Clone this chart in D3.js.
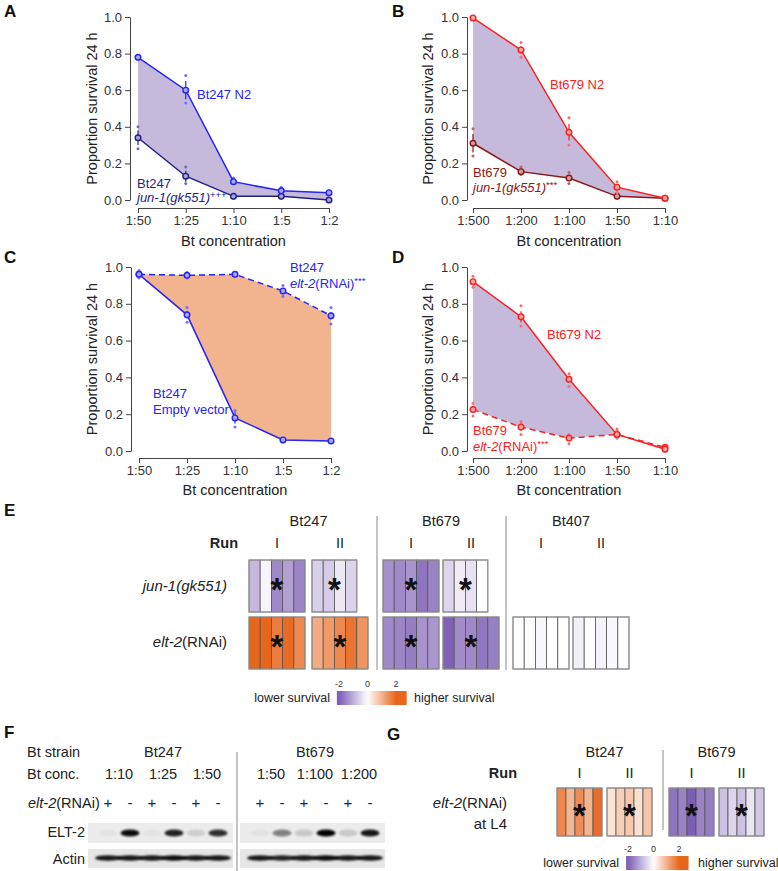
<!DOCTYPE html>
<html><head><meta charset="utf-8">
<script src="https://cdn.jsdelivr.net/npm/d3@7"></script>
<style>body{margin:0;background:#fff;} svg{display:block;font-family:"Liberation Sans",Arial,Helvetica,sans-serif;}</style>
</head><body><svg id="c" width="778" height="871"></svg>
<script>
// ---------------- DATA ----------------
const concBt247 = ["1:50","1:25","1:10","1:5","1:2"];
const concBt679 = ["1:500","1:200","1:100","1:50","1:10"];
const yTicks = [0, 0.2, 0.4, 0.6, 0.8, 1.0];

// Panel A
const aN2Mean = [0.78, 0.60, 0.10, 0.05, 0.04];
const aN2Err  = [0.01, 0.05, 0.01, 0.01, 0.005];
const aN2Reps = [[0.79,0.77,0.78],[0.68,0.53,0.60],[0.12,0.09,0.10],[0.07,0.04,0.05],[0.05,0.03,0.04]];
const aJunMean = [0.34, 0.13, 0.02, 0.02, 0.00];
const aJunErr  = [0.04, 0.03, 0.005, 0.005, 0.0];
const aJunReps = [[0.40,0.28,0.34],[0.18,0.09,0.13],[0.03,0.01,0.02],[0.03,0.01,0.02],[0.0,0.0,0.0]];
// Panel B
const bN2Mean = [0.995, 0.82, 0.37, 0.07, 0.01];
const bN2Err  = [0.003, 0.02, 0.045, 0.015, 0.003];
const bN2Reps = [[1.0,1.0,0.99],[0.86,0.78,0.82],[0.45,0.30,0.37],[0.10,0.04,0.07],[0.01,0.0,0.01]];
const bJunMean = [0.31, 0.155, 0.12, 0.02, 0.01];
const bJunErr  = [0.05, 0.012, 0.015, 0.006, 0.0];
const bJunReps = [[0.39,0.24,0.31],[0.18,0.14,0.16],[0.15,0.09,0.12],[0.04,0.01,0.02],[0.01,0.01,0.01]];
// Panel C
const cEvMean = [0.96, 0.74, 0.18, 0.06, 0.055];
const cEvErr  = [0.01, 0.02, 0.03, 0.006, 0.005];
const cEvReps = [[0.98,0.95,0.96],[0.78,0.70,0.74],[0.22,0.13,0.18],[0.07,0.05,0.06],[0.06,0.05,0.055]];
const cElt2Mean = [0.96, 0.955, 0.96, 0.87, 0.735];
const cElt2Err  = [0.01, 0.01, 0.01, 0.015, 0.02];
const cElt2Reps = [[0.98,0.94,0.96],[0.97,0.94,0.955],[0.97,0.95,0.96],[0.90,0.84,0.87],[0.78,0.69,0.735]];
// Panel D
const dN2Mean = [0.92, 0.73, 0.39, 0.09, 0.01];
const dN2Err  = [0.015, 0.03, 0.015, 0.01, 0.003];
const dN2Reps = [[0.95,0.89,0.92],[0.79,0.68,0.73],[0.42,0.35,0.39],[0.11,0.07,0.09],[0.02,0.0,0.01]];
const dElt2Mean = [0.225, 0.13, 0.07, 0.09, 0.02];
const dElt2Err  = [0.02, 0.02, 0.01, 0.01, 0.005];
const dElt2Reps = [[0.26,0.19,0.225],[0.16,0.09,0.13],[0.09,0.04,0.07],[0.12,0.07,0.09],[0.03,0.01,0.02]];

// Panel E (z-scores per replicate plate)
const eStrains = ["Bt247","Bt679","Bt407"];
const eRuns = ["I","II"];
const eJun1 = {
  Bt247: [[-0.89,-0.12,-1.47,-1.18,-1.51], [-0.60,-0.63,-0.29,-0.53]],
  Bt679: [[-1.37,-1.47,-1.33,-1.71,-1.54], [-0.52,-0.23,-0.37,0.0]]
};
const eElt2 = {
  Bt247: [[2.0,2.0,1.71,1.95,1.54], [1.10,1.32,1.54,1.82,1.39]],
  Bt679: [[-1.45,-1.51,-1.60,-1.33,-1.31], [-1.95,-1.44,-1.47,-1.69,-1.59]],
  Bt407: [[0.0,-0.02,-0.10,0.0,0.0], [-0.18,0.0,-0.15,-0.10,0.0]]
};
const eJun1Sig = {Bt247:[true,true], Bt679:[true,true]};
const eElt2Sig = {Bt247:[true,true], Bt679:[true,true], Bt407:[false,false]};
const legendTicks = [-2, 0, 2];

// Panel F (western blot)
const fStrains = ["Bt247","Bt679"];
const fConc = [["1:10","1:25","1:50"],["1:50","1:100","1:200"]];
const fRnai = ["+","-","+","-","+","-"];
const fElt2Band = [[0.03,0.95,0.03,0.85,0.12,0.8],[0.04,0.45,0.15,1.0,0.15,0.9]];
const fActinBand = [[0.9,0.9,0.9,0.95,0.9,0.9],[0.9,0.85,0.9,0.95,0.9,0.9]];

// Panel G
const gStrains = ["Bt247","Bt679"];
const gElt2L4 = {
  Bt247: [[1.57,0.94,1.49,0.98,1.91],[0.37,0.61,0.72,0.41,0.76]],
  Bt679: [[-1.73,-1.54,-2.0,-1.54,-1.62],[-0.76,-0.52,-0.76,-0.32,-0.69]]
};

// ---------------- DRAW ----------------
const svg = d3.select("#c");
const FONT = "'Liberation Sans', Arial, Helvetica, sans-serif";
const TXT = "#222";

function letter(t, x, y){
  svg.append("text").attr("x",x).attr("y",y).attr("font-size",17).attr("font-weight","bold").attr("fill","#111").text(t);
}
function multiText(x, y, parts, opts){
  const t = svg.append("text").attr("x",x).attr("y",y).attr("font-size",opts.size||12.5).attr("fill",opts.fill||TXT)
    .attr("text-anchor",opts.anchor||"start");
  parts.forEach(p=>{
    const s = t.append("tspan").text(p.t);
    if(p.i) s.attr("font-style","italic");
    if(p.b) s.attr("font-weight","bold");
    if(p.sup) s.attr("font-size",9.5).attr("dy",-4);
  });
  return t;
}

function mix(c, t){ return d3.interpolateRgb(c, "#ffffff")(t); }

function linePanel(o){
  const g = svg.append("g");
  const x = d3.scalePoint().domain(o.cats).range([o.x0, o.x1]);
  const y = d3.scaleLinear().domain([0,1]).range([o.yb, o.yt]);
  const idx = d3.range(o.cats.length);
  g.append("path").datum(idx)
    .attr("d", d3.area().x(i=>x(o.cats[i])).y0(i=>y(o.lower.mean[i])).y1(i=>y(o.upper.mean[i])))
    .attr("fill", o.fill);
  const ya = g.append("g").attr("transform",`translate(${o.ax},0)`)
    .call(d3.axisLeft(y).tickValues(yTicks).tickFormat(d3.format(".1f")).tickSize(5).tickSizeOuter(0).tickPadding(3));
  const xa = g.append("g").attr("transform",`translate(0,${o.xay})`)
    .call(d3.axisBottom(x).tickSize(5).tickSizeOuter(0).tickPadding(3));
  [ya, xa].forEach(a=>{
    a.attr("font-family",FONT).attr("font-size",13);
    a.selectAll("text").attr("fill","#333");
    a.selectAll("path,line").attr("stroke","#444");
  });
  g.append("text").attr("x",(o.x0+o.x1)/2).attr("y",o.xtY).attr("text-anchor","middle").attr("font-size",14.5).attr("fill",TXT).text("Bt concentration");
  g.append("text").attr("transform",`translate(${o.ytX},${(o.yb+o.yt)/2}) rotate(-90)`).attr("text-anchor","middle").attr("font-size",14.5).attr("fill",TXT).text("Proportion survival 24 h");
  [o.lower, o.upper].forEach(s=>{
    idx.forEach(i=>{
      s.reps[i].forEach(r=>{
        g.append("circle").attr("cx",x(o.cats[i])).attr("cy",y(r)).attr("r",1.5).attr("fill",mix(s.color,0.35));
      });
    });
    g.append("path").datum(idx)
      .attr("d", d3.line().x(i=>x(o.cats[i])).y(i=>y(s.mean[i])))
      .attr("fill","none").attr("stroke",s.color).attr("stroke-width",1.5)
      .attr("stroke-dasharray", s.dash ? "6,4" : null);
    idx.forEach(i=>{
      g.append("line").attr("x1",x(o.cats[i])).attr("x2",x(o.cats[i]))
        .attr("y1",y(s.mean[i]-s.err[i])).attr("y2",y(s.mean[i]+s.err[i]))
        .attr("stroke",s.color).attr("stroke-width",1.2);
      g.append("circle").attr("cx",x(o.cats[i])).attr("cy",y(s.mean[i])).attr("r",2.8)
        .attr("fill",mix(s.color,0.6)).attr("stroke",s.color).attr("stroke-width",1.4);
    });
  });
}

const BLUE = "#2424f4", NAVY = "#1e1e8a", RED = "#fb2020", DRED = "#8c1717";
const LAV = "#c6badc", ORG = "#f2b48e";

letter("A", 4, 17);
linePanel({cats:concBt247, x0:138, x1:329, ax:130, yb:200, yt:17, xay:208, xtY:246, ytX:97, fill:LAV,
  upper:{mean:aN2Mean, err:aN2Err, reps:aN2Reps, color:BLUE},
  lower:{mean:aJunMean, err:aJunErr, reps:aJunReps, color:NAVY}});
multiText(197, 99, [{t:"Bt247 N2"}], {fill:BLUE, size:13});
multiText(137, 188, [{t:"Bt247"}], {fill:NAVY, size:13});
multiText(137, 202, [{t:"jun-1(gk551)",i:true},{t:"+++",sup:true}], {fill:NAVY, size:13});

letter("B", 392, 17);
linePanel({cats:concBt679, x0:473, x1:665, ax:467, yb:200, yt:17, xay:208, xtY:246, ytX:433, fill:LAV,
  upper:{mean:bN2Mean, err:bN2Err, reps:bN2Reps, color:RED},
  lower:{mean:bJunMean, err:bJunErr, reps:bJunReps, color:DRED}});
multiText(550, 89, [{t:"Bt679 N2"}], {fill:RED, size:13});
multiText(473, 177, [{t:"Bt679"}], {fill:DRED, size:13});
multiText(473, 192, [{t:"jun-1(gk551)",i:true},{t:"***",sup:true}], {fill:DRED, size:13});

letter("C", 4, 263);
linePanel({cats:concBt247, x0:139, x1:331, ax:131, yb:451, yt:267, xay:458, xtY:495, ytX:97, fill:ORG,
  upper:{mean:cElt2Mean, err:cElt2Err, reps:cElt2Reps, color:BLUE, dash:true},
  lower:{mean:cEvMean, err:cEvErr, reps:cEvReps, color:BLUE}});
multiText(290, 272, [{t:"Bt247"}], {fill:BLUE, size:13});
multiText(290, 288, [{t:"elt-2",i:true},{t:"(RNAi)"},{t:"***",sup:true}], {fill:BLUE, size:13});
multiText(153, 398, [{t:"Bt247"}], {fill:BLUE, size:13});
multiText(153, 414, [{t:"Empty vector"}], {fill:BLUE, size:13});

letter("D", 392, 263);
linePanel({cats:concBt679, x0:473, x1:665, ax:467, yb:451, yt:267, xay:458, xtY:495, ytX:433, fill:LAV,
  upper:{mean:dN2Mean, err:dN2Err, reps:dN2Reps, color:RED},
  lower:{mean:dElt2Mean, err:dElt2Err, reps:dElt2Reps, color:RED, dash:true}});
multiText(547, 339, [{t:"Bt679 N2"}], {fill:RED, size:13});
multiText(473, 435, [{t:"Bt679"}], {fill:RED, size:13});
multiText(473, 451, [{t:"elt-2",i:true},{t:"(RNAi)"},{t:"***",sup:true}], {fill:RED, size:13});

// ---- heatmap helpers ----
const heat = d3.scaleLinear().domain([-2,0,2]).range(["#7c5eb4","#ffffff","#e8661c"]).clamp(true);
function heatBox(x0, y0, vals, cw, h, star){
  const g = svg.append("g");
  g.selectAll("rect.c").data(vals).join("rect")
    .attr("x",(d,i)=>x0+i*cw).attr("y",y0).attr("width",cw).attr("height",h)
    .attr("fill",d=>heat(d)).attr("stroke","#555").attr("stroke-width",0.8);
  g.append("rect").attr("x",x0).attr("y",y0).attr("width",cw*vals.length).attr("height",h)
    .attr("fill","none").attr("stroke","#999").attr("stroke-width",1);
  if(star){
    const cx = x0 + cw*vals.length/2, cy = y0 + h/2;
    g.append("text").attr("x",cx).attr("y",cy+15).attr("text-anchor","middle")
      .attr("font-size",33).attr("font-weight","bold").attr("fill","#111").text("*");
  }
}
function heatLegend(cx0, cx2, barY, tickY, leftX, rightX){
  const lx = d3.scaleLinear().domain([-2,2]).range([cx0, cx2]);
  const id = "lg" + Math.round(barY);
  const grad = svg.append("defs").append("linearGradient").attr("id",id);
  const lo = -2.15, hi = 2.75;
  d3.range(0,1.0001,0.05).forEach(t=>{
    grad.append("stop").attr("offset",t).attr("stop-color",heat(lo+t*(hi-lo)));
  });
  svg.append("rect").attr("x",lx(lo)).attr("y",barY).attr("width",lx(hi)-lx(lo)).attr("height",14).attr("fill",`url(#${id})`);
  legendTicks.forEach(v=>{
    svg.append("text").attr("x",lx(v)).attr("y",tickY).attr("text-anchor","middle").attr("font-size",9).attr("fill","#333").text(v);
  });
  svg.append("text").attr("x",leftX).attr("y",barY+11).attr("text-anchor","end").attr("font-size",12.5).attr("fill",TXT).text("lower survival");
  svg.append("text").attr("x",rightX).attr("y",barY+11).attr("font-size",12.5).attr("fill",TXT).text("higher survival");
}

// Panel E
letter("E", 4, 516);
const eGroupX = {Bt247:249, Bt679:383, Bt407:513};
const eRunGap = {Bt247:63, Bt679:60, Bt407:60};
const eCW = 11.2, eRowY = [560, 617], eH = 52;
eStrains.forEach(s=>{
  const gx = eGroupX[s];
  svg.append("text").attr("x",gx+ (eRunGap[s]+56)/2).attr("y",526).attr("text-anchor","middle").attr("font-size",14.5).attr("fill",TXT).text(s);
  eRuns.forEach((r,ri)=>{
    svg.append("text").attr("x",gx+ri*eRunGap[s]+28).attr("y",548).attr("text-anchor","middle").attr("font-size",14.5).attr("fill",TXT).text(r);
  });
  if(eJun1[s]) eJun1[s].forEach((v,ri)=>heatBox(gx+ri*eRunGap[s], eRowY[0], v, eCW, eH, eJun1Sig[s][ri]));
  if(eElt2[s]) eElt2[s].forEach((v,ri)=>heatBox(gx+ri*eRunGap[s], eRowY[1], v, eCW, eH, eElt2Sig[s][ri]));
});
multiText(238, 548, [{t:"Run",b:true}], {size:14.5, anchor:"end"});
multiText(227, 591, [{t:"jun-1",i:true},{t:"(",i:true},{t:"gk551",i:true},{t:")",i:true}], {size:15, anchor:"end"});
multiText(227, 647, [{t:"elt-2",i:true},{t:"(RNAi)"}], {size:15, anchor:"end"});
[377, 506].forEach(xx=>svg.append("line").attr("x1",xx).attr("x2",xx).attr("y1",516).attr("y2",670).attr("stroke","#888").attr("stroke-width",1));
heatLegend(339, 396, 691, 687, 330, 414);

// Panel F
letter("F", 4, 738);
svg.append("text").attr("x",27).attr("y",757).attr("font-size",14.5).attr("fill",TXT).text("Bt strain");
svg.append("text").attr("x",27).attr("y",779).attr("font-size",14.5).attr("fill",TXT).text("Bt conc.");
multiText(28, 808, [{t:"elt-2",i:true},{t:"(RNAi)"}], {size:14.5});
svg.append("text").attr("x",85).attr("y",837).attr("text-anchor","end").attr("font-size",14.5).attr("fill",TXT).text("ELT-2");
svg.append("text").attr("x",85).attr("y",864).attr("text-anchor","end").attr("font-size",14.5).attr("fill",TXT).text("Actin");
svg.append("line").attr("x1",237).attr("x2",237).attr("y1",752).attr("y2",871).attr("stroke","#888");
const defs = svg.append("defs");
defs.append("filter").attr("id","blur").attr("x","-50%").attr("y","-100%").attr("width","200%").attr("height","300%")
  .append("feGaussianBlur").attr("stdDeviation",1.2);
const fBoxX = [88, 240], fBoxW = 145;
fStrains.forEach((s,si)=>{
  const bx = fBoxX[si];
  const lane = d3.scalePoint().domain(d3.range(6)).range([bx+20, bx+130]);
  svg.append("text").attr("x",bx+75).attr("y",757).attr("text-anchor","middle").attr("font-size",14.5).attr("fill",TXT).text(s);
  fConc[si].forEach((c,ci)=>{
    svg.append("text").attr("x",(lane(ci*2)+lane(ci*2+1))/2).attr("y",779).attr("text-anchor","middle").attr("font-size",14.5).attr("fill",TXT).text(c);
  });
  fRnai.forEach((r,li)=>{
    svg.append("text").attr("x",lane(li)).attr("y",808).attr("text-anchor","middle").attr("font-size",15).attr("fill",TXT).text(r);
  });
  svg.append("rect").attr("x",bx).attr("y",823).attr("width",fBoxW).attr("height",20).attr("fill","#ececec");
  fElt2Band[si].forEach((v,li)=>{
    svg.append("ellipse").attr("cx",lane(li)).attr("cy",833).attr("rx",9.5).attr("ry",3.6)
      .attr("fill","#000").attr("opacity",v).attr("filter","url(#blur)");
  });
  svg.append("rect").attr("x",bx).attr("y",849).attr("width",fBoxW).attr("height",19).attr("fill","#e6e6e6");
  fActinBand[si].forEach((v,li)=>{
    svg.append("ellipse").attr("cx",lane(li)).attr("cy",858).attr("rx",13).attr("ry",2.8)
      .attr("fill","#000").attr("opacity",v).attr("filter","url(#blur)");
  });
});

// Panel G
letter("G", 387, 740);
const gGroupX = {Bt247:557, Bt679:669};
const gCW = 9, gRunGap = 50;
gStrains.forEach(s=>{
  const gx = gGroupX[s];
  svg.append("text").attr("x",gx+(gRunGap+45)/2).attr("y",757).attr("text-anchor","middle").attr("font-size",14.5).attr("fill",TXT).text(s);
  eRuns.forEach((r,ri)=>{
    svg.append("text").attr("x",gx+ri*gRunGap+22.5).attr("y",778).attr("text-anchor","middle").attr("font-size",14.5).attr("fill",TXT).text(r);
  });
  gElt2L4[s].forEach((v,ri)=>heatBox(gx+ri*gRunGap, 788, v, gCW, 48, true));
});
multiText(517, 778, [{t:"Run",b:true}], {size:14.5, anchor:"end"});
multiText(507, 808, [{t:"elt-2",i:true},{t:"(RNAi)"}], {size:15, anchor:"end"});
multiText(507, 829, [{t:"at L4"}], {size:15, anchor:"end"});
svg.append("line").attr("x1",663).attr("x2",663).attr("y1",750).attr("y2",830).attr("stroke","#888");
heatLegend(628, 679, 856, 852, 619, 698);
</script></body></html>
